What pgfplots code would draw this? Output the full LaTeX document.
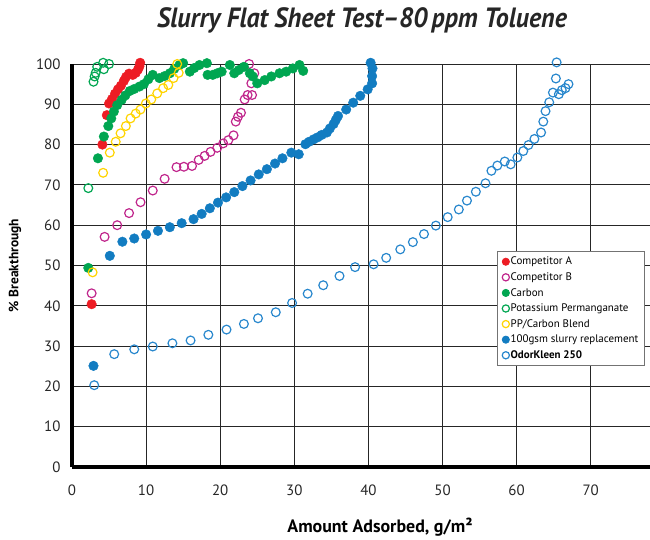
\documentclass[border=0pt]{standalone}
\usepackage{pgfplots}
\pgfplotsset{compat=1.18}
\usepackage{fontspec}
\usepackage{graphicx}
\setmainfont{PT Sans}
\definecolor{cA}{RGB}{237,28,36}
\definecolor{cB}{RGB}{192,38,140}
\definecolor{cC}{RGB}{0,166,81}
\definecolor{cY}{RGB}{255,212,0}
\definecolor{cBl}{RGB}{18,124,193}
\definecolor{cBo}{RGB}{40,135,205}
\begin{document}
\begin{tikzpicture}[x=1bp,y=1bp]
\path[use as bounding box] (-72,-73) rectangle (578,467);
\begin{axis}[
  at={(0,0)}, anchor=south west,
  scale only axis, width=578bp, height=403bp,
  xmin=0, xmax=78, ymin=0, ymax=100,
  xtick={0,10,...,70}, ytick={0,10,...,100},
  axis x line=bottom, axis y line=left,
  axis line style={line width=3.5bp, -},
  major tick length=0pt,
  grid=major,
  major grid style={black!85, line width=0.8bp},
  /pgf/number format/assume math mode=true,
  tick label style={font=\fontsize{15}{15}\selectfont, black!85},
  yticklabel style={anchor=east, xshift=-8bp},
  xticklabel style={anchor=north, yshift=-14bp},
  xlabel={\textbf{Amount Adsorbed, g/m²}},
  ylabel={\textbf{\% Breakthrough}},
  xlabel style={at={(axis description cs:0.533,-0.149)}, anchor=center, font=\fontsize{18}{18}\selectfont},
  ylabel style={at={(axis description cs:-0.0986,0.5)}, anchor=center, font=\fontsize{13.5}{13.5}\selectfont},
  clip=false,
  legend style={at={(axis description cs:0.735,0.536)}, anchor=north west,
    draw=black!55, line width=0.8bp, fill=white,
    font=\fontsize{11}{12}\selectfont, inner xsep=5bp, inner ysep=4.5bp,
    row sep=3.9bp, nodes={inner sep=1.2bp},
    cells={anchor=west}},
  legend image post style={mark size=3.6bp},
  legend image code/.code={\draw[mark repeat=2,mark phase=2] plot coordinates {(0cm,0cm) (0.22cm,0cm) (0.44cm,0cm)};},
  legend cell align=left,
]
% Competitor A
\addplot[only marks, mark=*, mark size=4.8bp, color=cA, mark options={fill=cA, draw=cA}] coordinates {
(2.65,40.4)(4.1,80.0)(4.7,87.3)(5.0,90.2)(5.4,91.3)(5.8,92.6)(6.2,93.7)(6.6,94.6)(7.0,95.8)(7.3,96.8)(7.7,97.6)(8.2,97.3)(8.6,97.8)(8.9,98.6)(9.1,99.4)(9.2,100.3)
};
\addlegendentry{Competitor A}
% Competitor B
\addplot[only marks, mark=o, mark size=4.4bp, color=cB, mark options={line width=1.2bp}] coordinates {
(2.65,43.1)(4.4,57.1)(6.1,60.0)(7.7,63.0)(9.25,65.7)(10.9,68.6)(12.5,71.5)(14.1,74.4)(15.1,74.5)(16.2,74.7)(17.1,76.2)(17.9,77.2)(18.7,78.2)(19.6,79.2)(20.4,80.3)(21.1,81.1)(21.8,82.3)(22.1,85.7)(22.4,86.9)(22.8,87.9)(23.3,91.2)(23.7,92.3)(24.3,92.3)(24.2,95.2)(24.6,97.7)(23.9,100.0)
};
\addlegendentry{Competitor B}
% Carbon
\addplot[only marks, mark=*, mark size=4.8bp, color=cC, mark options={fill=cC, draw=cC}] coordinates {
(2.2,49.4)(3.5,76.6)(4.3,82.0)(4.9,84.6)(5.3,86.5)(5.65,88.2)(6.1,89.8)(6.7,91.1)(7.2,92.2)(7.8,93.3)(8.4,93.8)(9.1,94.4)(9.7,95.0)(10.3,96.2)(10.9,97.3)(11.8,96.5)(12.5,97.0)(13.2,97.7)(13.8,98.8)(14.5,99.75)(15.0,100.2)(15.9,98.1)(16.5,99.0)(17.2,99.75)(18.2,100.2)(18.3,97.3)(19.0,97.3)(19.6,97.7)(20.2,98.1)(21.3,99.75)(21.9,97.7)(22.5,98.5)(23.2,99.3)(24.0,97.7)(24.4,96.9)(25.0,95.2)(26.0,96.0)(26.9,96.9)(28.0,97.7)(28.9,98.1)(29.8,98.9)(30.7,99.75)(31.2,98.3)
};
\addlegendentry{Carbon}
% Potassium Permanganate
\addplot[only marks, mark=o, mark size=4.4bp, color=cC, mark options={line width=1.2bp}] coordinates {
(2.2,69.2)(2.9,95.6)(3.05,96.9)(3.2,97.8)(4.3,98.7)(3.4,99.3)(4.2,100.3)(5.0,100.0)
};
\addlegendentry{Potassium Permanganate}
% PP/Carbon Blend
\addplot[only marks, mark=o, mark size=4.4bp, color=cY, mark options={line width=1.2bp}] coordinates {
(2.78,48.3)(4.2,73.0)(5.1,78.0)(5.9,80.7)(6.55,82.8)(7.27,84.6)(7.9,86.5)(8.6,87.7)(9.24,88.7)(9.96,90.2)(10.7,91.2)(11.5,92.7)(12.3,94.0)(13.0,94.8)(13.7,96.5)(14.4,97.8)(14.2,100.0)
};
\addlegendentry{PP/Carbon Blend}
% 100gsm slurry replacement
\addplot[only marks, mark=*, mark size=4.8bp, color=cBl, mark options={fill=cBl, draw=cBl}] coordinates {
(2.9,25.1)(5.1,52.4)(6.8,55.9)(8.4,56.7)(10.0,57.7)(11.6,58.6)(13.2,59.5)(14.8,60.5)(16.4,61.5)(17.5,62.8)(18.6,64.2)(19.7,65.6)(20.8,66.9)(21.9,68.2)(23.0,69.7)(24.1,71.1)(25.2,72.6)(26.3,73.9)(27.4,75.3)(28.4,76.6)(29.6,78.0)(30.6,77.6)(31.5,80.1)(32.0,80.7)(32.6,81.3)(33.15,81.8)(33.7,82.4)(34.4,83.0)(34.8,84.0)(35.3,85.1)(35.6,86.1)(35.9,87.1)(37.0,88.7)(37.95,90.4)(38.9,92.1)(39.9,93.7)(40.5,95.2)(40.5,97.0)(40.55,98.9)(40.3,100.3)
};
\addlegendentry{100gsm slurry replacement}
% OdorKleen 250
\addplot[only marks, mark=o, mark size=4.4bp, color=cBo, mark options={line width=1.2bp}] coordinates {
(3.0,20.3)(5.7,28.0)(8.4,29.2)(10.9,29.9)(13.55,30.7)(16.0,31.4)(18.4,32.8)(20.85,34.1)(23.2,35.5)(25.1,36.9)(27.5,38.4)(29.7,40.7)(31.8,43.0)(33.9,45.1)(36.1,47.4)(38.2,49.6)(40.7,50.3)(42.4,51.9)(44.3,54.0)(46.0,55.8)(47.5,57.8)(49.1,59.9)(50.7,62.0)(52.2,63.9)(53.3,66.1)(54.5,68.3)(55.8,70.4)(56.6,73.5)(57.4,74.8)(58.4,75.8)(59.2,75.1)(60.1,76.8)(60.9,78.4)(61.6,79.9)(62.4,81.4)(63.3,83.0)(63.6,85.7)(63.9,88.3)(64.4,90.5)(64.9,92.9)(65.7,92.5)(66.1,93.5)(66.6,94.0)(67.0,95.0)(65.3,96.4)(65.4,100.4)
};
\addlegendentry{\textbf{OdorKleen 250}}
\end{axis}
\node[font=\bfseries\itshape\fontsize{28}{28}\selectfont, text=black!85] at (290,447) {\scalebox{0.93}[1]{Slurry Flat Sheet Test–80\,ppm Toluene}};
\end{tikzpicture}
\end{document}
